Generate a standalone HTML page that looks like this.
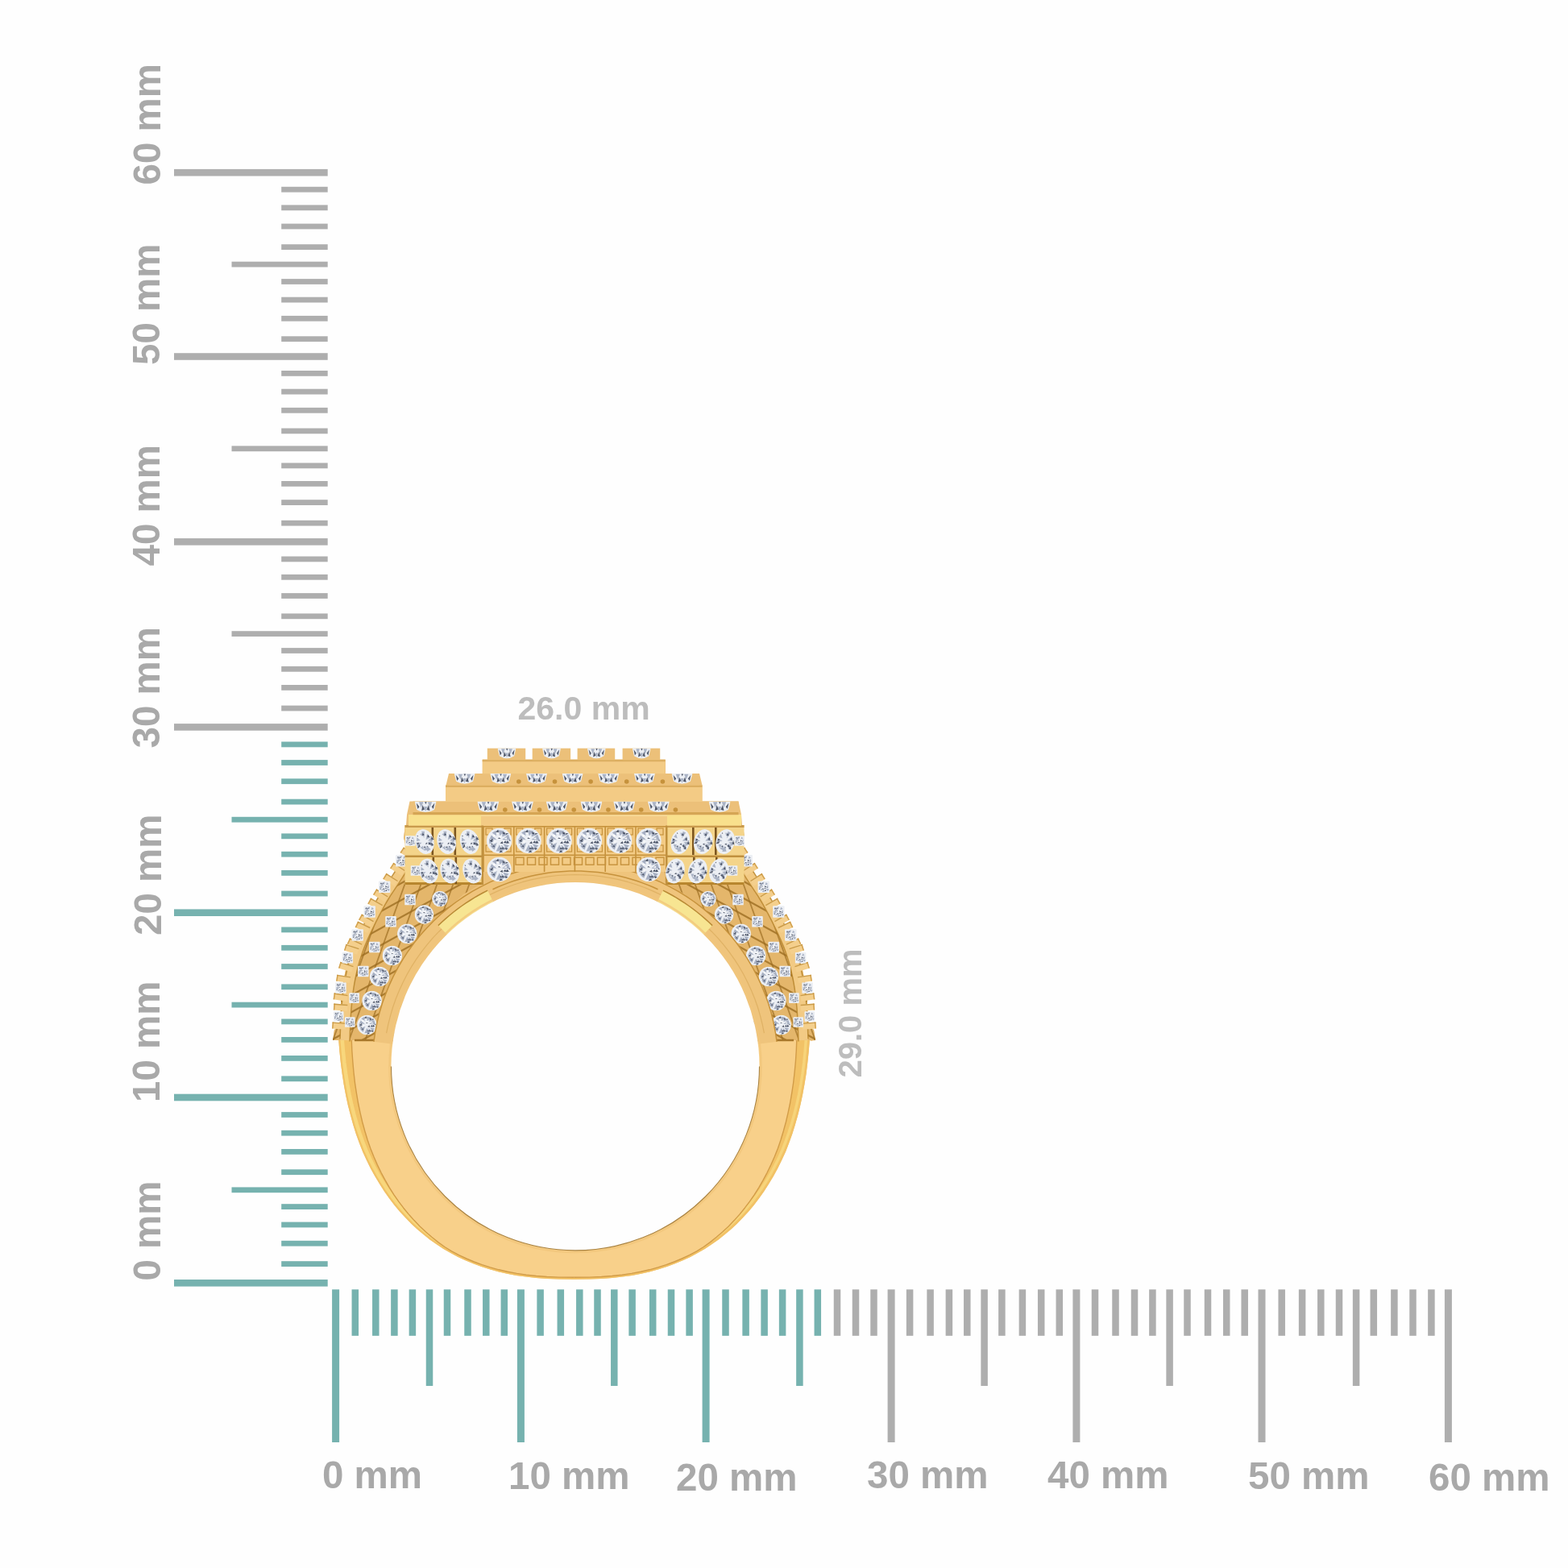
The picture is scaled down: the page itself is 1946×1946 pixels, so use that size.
<!DOCTYPE html>
<html><head><meta charset="utf-8"><title>Ring size</title>
<style>html,body{margin:0;padding:0;background:#fff;overflow:hidden}svg{display:block}</style>
</head><body>
<svg width="1946" height="1946" viewBox="0 0 1946 1946">
<defs>
<symbol id="d" viewBox="-50 -50 100 100">
<circle r="49" fill="#eceff4"/>
<g fill="#9fa9bd" opacity="0.9"><polygon points="21.0,3.9 34.7,-0.3 32.3,12.7"/><polygon points="14.9,11.5 38.1,17.7 26.8,32.4"/><polygon points="8.0,15.3 25.9,31.8 11.3,39.4"/><polygon points="0.4,14.7 14.5,40.1 -12.3,40.9"/><polygon points="-10.7,12.6 -18.4,34.8 -31.3,23.8"/><polygon points="-7.8,6.7 -23.5,31.8 -35.0,18.4"/><polygon points="-20.7,1.0 -38.4,12.2 -39.4,-8.4"/><polygon points="-9.4,-4.2 -37.0,-8.2 -30.9,-21.9"/><polygon points="-10.9,-19.1 -27.9,-31.5 -13.0,-40.0"/><polygon points="3.1,-19.3 -6.4,-42.3 19.2,-38.3"/><polygon points="11.5,-15.8 11.7,-36.4 31.0,-22.4"/><polygon points="11.3,-4.0 35.1,-25.0 43.0,-2.5"/></g>
<g fill="#3f475a" opacity="0.9"><polygon points="26.7,35.9 21.4,26.6 34.8,30.0"/><polygon points="-28.5,-4.0 -26.4,5.1 -37.6,0.1"/><polygon points="2.7,9.1 12.7,1.3 14.3,11.7"/><polygon points="-0.3,-14.3 6.0,-7.7 -5.2,-8.8"/><polygon points="14.0,43.6 -1.1,46.1 6.4,36.5"/><polygon points="26.2,9.4 32.5,-0.8 39.2,9.3"/><polygon points="6.9,31.8 2.6,27.4 10.1,28.1"/><polygon points="-28.8,15.7 -33.6,10.0 -24.3,11.3"/><polygon points="11.4,30.6 1.8,32.6 6.1,26.3"/><polygon points="20.3,-23.9 10.7,-30.2 23.8,-31.0"/><polygon points="38.6,0.9 39.5,-5.0 45.1,-0.6"/><polygon points="-14.4,-34.1 -4.6,-42.8 -1.8,-31.8"/><polygon points="12.9,-34.0 22.9,-33.0 15.2,-28.5"/><polygon points="24.6,-29.8 36.4,-28.6 27.2,-23.3"/><polygon points="15.9,7.8 24.3,-0.5 27.6,9.5"/><polygon points="12.1,24.7 22.7,30.8 9.2,32.3"/><polygon points="-20.0,16.8 -17.3,24.9 -27.7,20.9"/><polygon points="-22.1,-2.9 -33.5,-1.0 -27.9,-8.3"/></g>
<g fill="#ffffff" opacity="0.95"><polygon points="-13.2,-21.1 -22.6,-14.7 -23.1,-23.9"/><polygon points="-6.0,-30.1 0.1,-33.2 -0.7,-28.0"/><polygon points="30.2,-5.6 16.9,-8.4 28.8,-13.5"/><polygon points="-22.2,1.3 -11.0,1.7 -18.9,7.3"/><polygon points="20.6,-0.4 15.0,4.8 13.1,-1.6"/><polygon points="6.0,-10.4 -5.8,-14.5 6.4,-17.9"/><polygon points="-7.0,-10.9 -9.5,-6.1 -12.9,-10.6"/></g>
</symbol>
<symbol id="q" viewBox="-50 -50 100 100">
<rect x="-45" y="-45" width="90" height="90" rx="6" fill="#eceff4"/>
<g fill="#9fa9bd" opacity="0.85"><polygon points="21.4,-2.4 32.9,-13.4 35.0,6.0"/><polygon points="10.6,7.5 42.2,18.3 31.1,33.9"/><polygon points="-0.9,15.5 7.5,38.7 -11.9,37.6"/><polygon points="-12.3,15.7 -15.2,31.6 -26.9,22.5"/><polygon points="-13.0,2.5 -34.2,18.6 -38.6,-4.4"/><polygon points="-8.4,-7.6 -33.9,-15.1 -18.3,-32.3"/><polygon points="-3.0,-17.2 -16.7,-34.7 3.8,-38.3"/><polygon points="12.1,-13.7 17.4,-36.0 33.5,-21.9"/></g>
<g fill="#3f475a" opacity="0.9"><polygon points="1.0,18.8 -17.0,18.3 -4.5,9.2"/><polygon points="-30.9,-5.9 -20.1,-8.8 -24.2,-1.2"/><polygon points="31.8,8.8 20.2,7.5 29.3,2.3"/><polygon points="-31.4,21.4 -38.2,14.2 -26.0,15.4"/><polygon points="-34.7,-24.0 -26.3,-34.6 -20.7,-23.2"/><polygon points="9.3,5.7 6.0,-8.3 23.2,-0.7"/><polygon points="13.2,7.7 13.1,17.7 2.5,11.0"/><polygon points="6.2,33.1 12.4,21.3 20.8,32.4"/><polygon points="-10.9,0.4 -18.4,-5.9 -6.8,-5.6"/><polygon points="-18.2,-27.3 -3.9,-26.1 -14.8,-19.5"/></g>
</symbol>
<symbol id="m" viewBox="-50 -50 100 100">
<ellipse rx="36" ry="49" fill="#eceff4"/>
<g fill="#9fa9bd" opacity="0.85" transform="scale(0.75 1)"><polygon points="17.9,-0.2 41.1,-8.8 41.2,7.9"/><polygon points="13.2,6.1 36.9,5.2 27.9,24.8"/><polygon points="4.1,16.7 19.9,35.5 -1.4,40.7"/><polygon points="-2.6,15.1 4.8,35.6 -16.6,31.9"/><polygon points="-13.7,14.3 -16.4,30.8 -30.1,17.6"/><polygon points="-14.8,1.0 -42.8,10.8 -43.8,-5.2"/><polygon points="-18.9,-9.2 -38.8,-10.3 -32.0,-24.1"/><polygon points="-2.5,-21.2 -12.4,-33.1 4.2,-35.1"/><polygon points="2.3,-13.6 -1.4,-41.4 15.0,-38.6"/><polygon points="9.1,-5.5 24.0,-26.9 34.9,-9.1"/></g>
<g fill="#3f475a" opacity="0.9" transform="scale(0.75 1)"><polygon points="-40.5,11.1 -27.8,4.7 -29.4,15.6"/><polygon points="-39.2,-2.0 -30.7,-4.1 -34.1,1.8"/><polygon points="-28.5,-25.8 -29.2,-31.5 -22.7,-28.0"/><polygon points="40.7,22.8 27.3,24.3 34.7,16.3"/><polygon points="37.6,-8.2 50.2,-5.4 38.7,-0.7"/><polygon points="12.3,11.0 0.2,11.4 7.8,4.8"/><polygon points="4.5,22.3 10.6,19.1 9.9,24.4"/><polygon points="-41.9,11.2 -31.2,15.0 -42.4,18.1"/><polygon points="-37.4,4.4 -40.1,-3.4 -30.0,0.4"/><polygon points="41.9,-6.2 51.2,2.0 36.2,1.4"/><polygon points="-4.2,22.5 -14.1,22.4 -7.3,17.3"/><polygon points="-3.3,-25.0 3.1,-34.5 9.0,-24.8"/><polygon points="40.3,-7.9 35.7,-11.9 43.0,-11.6"/><polygon points="19.1,-12.9 27.0,-22.8 32.3,-12.0"/><polygon points="30.7,21.2 26.6,11.5 39.6,15.8"/><polygon points="23.3,7.7 28.9,18.3 13.9,14.2"/></g>
</symbol>
<symbol id="b" viewBox="-50 -50 100 100" preserveAspectRatio="none">
<path d="M-50,-50 L50,-50 L40,15 Q0,55 -40,15 Z" fill="#eceff4"/>
<g fill="#9fa9bd" opacity="0.85"><polygon points="-30,-45 -10,-45 -20,0"/><polygon points="30,-45 10,-45 20,0"/><polygon points="-8,-10 8,-10 0,30"/></g>
<g fill="#3f475a" opacity="0.9"><polygon points="-42,-38 -28,-8 -36,10"/><polygon points="42,-38 28,-8 36,10"/><polygon points="-14,-22 -4,12 -18,24"/><polygon points="14,-22 5,15 20,22"/><polygon points="-4,-46 6,-46 1,-28"/></g>
</symbol>
<clipPath id="sc0"><polygon points="503.0,1024.0 501.0,1040.0 506.5,1059.2 493.4,1079.4 485.3,1091.6 472.5,1111.9 466.3,1122.0 454.6,1142.9 450.7,1150.5 440.3,1172.2 436.9,1177.9 429.7,1200.7 426.7,1214.4 423.1,1238.2 423.1,1249.7 421.3,1273.6 415.0,1278.0 413.0,1291.0 413.0,1291.0 490.0,1291.0 492.0,1240.0 505.0,1200.0 525.0,1165.0 548.0,1135.0 575.0,1110.0 600.0,1095.0 598.0,1024.0"/></clipPath><clipPath id="sc1"><polygon points="922.0,1024.0 924.0,1040.0 918.5,1059.2 931.6,1079.4 939.7,1091.6 952.5,1111.9 958.7,1122.0 970.4,1142.9 974.3,1150.5 984.7,1172.2 988.1,1177.9 995.3,1200.7 998.3,1214.4 1001.9,1238.2 1001.9,1249.7 1003.7,1273.6 1010.0,1278.0 1012.0,1291.0 1012.0,1291.0 935.0,1291.0 933.0,1240.0 920.0,1200.0 900.0,1165.0 877.0,1135.0 850.0,1110.0 825.0,1095.0 827.0,1024.0"/></clipPath></defs>
<style>
.lb{font-family:"Liberation Sans",Arial,sans-serif;font-weight:bold;font-size:47.5px;fill:#a9a9a9}
.lb2{font-family:"Liberation Sans",Arial,sans-serif;font-weight:bold;font-size:41px;fill:#bdbdbd}
.lb3{font-family:"Liberation Sans",Arial,sans-serif;font-weight:bold;font-size:40px;fill:#bdbdbd}
</style>
<rect width="1946" height="1946" fill="#fefefe"/>
<rect x="216" y="1588.00" width="190.70" height="8.6" fill="#76b2af"/><rect x="349.2" y="1565.20" width="57.50" height="6.8" fill="#76b2af"/><rect x="349.2" y="1539.80" width="57.50" height="6.8" fill="#76b2af"/><rect x="349.2" y="1516.60" width="57.50" height="6.8" fill="#76b2af"/><rect x="349.2" y="1494.20" width="57.50" height="6.8" fill="#76b2af"/><rect x="287.5" y="1473.40" width="119.20" height="6.8" fill="#76b2af"/><rect x="349.2" y="1451.30" width="57.50" height="6.8" fill="#76b2af"/><rect x="349.2" y="1426.00" width="57.50" height="6.8" fill="#76b2af"/><rect x="349.2" y="1402.80" width="57.50" height="6.8" fill="#76b2af"/><rect x="349.2" y="1380.10" width="57.50" height="6.8" fill="#76b2af"/><rect x="216" y="1357.70" width="190.70" height="8.6" fill="#76b2af"/><rect x="349.2" y="1335.40" width="57.50" height="6.8" fill="#76b2af"/><rect x="349.2" y="1310.00" width="57.50" height="6.8" fill="#76b2af"/><rect x="349.2" y="1287.00" width="57.50" height="6.8" fill="#76b2af"/><rect x="349.2" y="1264.50" width="57.50" height="6.8" fill="#76b2af"/><rect x="287.5" y="1243.70" width="119.20" height="6.8" fill="#76b2af"/><rect x="349.2" y="1221.40" width="57.50" height="6.8" fill="#76b2af"/><rect x="349.2" y="1196.10" width="57.50" height="6.8" fill="#76b2af"/><rect x="349.2" y="1172.90" width="57.50" height="6.8" fill="#76b2af"/><rect x="349.2" y="1150.50" width="57.50" height="6.8" fill="#76b2af"/><rect x="216" y="1128.40" width="190.70" height="8.6" fill="#76b2af"/><rect x="349.2" y="1105.60" width="57.50" height="6.8" fill="#76b2af"/><rect x="349.2" y="1080.00" width="57.50" height="6.8" fill="#76b2af"/><rect x="349.2" y="1056.80" width="57.50" height="6.8" fill="#76b2af"/><rect x="349.2" y="1034.40" width="57.50" height="6.8" fill="#76b2af"/><rect x="287.5" y="1013.80" width="119.20" height="6.8" fill="#76b2af"/><rect x="349.2" y="991.70" width="57.50" height="6.8" fill="#76b2af"/><rect x="349.2" y="966.30" width="57.50" height="6.8" fill="#76b2af"/><rect x="349.2" y="943.10" width="57.50" height="6.8" fill="#76b2af"/><rect x="349.2" y="920.50" width="57.50" height="6.8" fill="#76b2af"/><rect x="216" y="898.10" width="190.70" height="8.6" fill="#aeaeae"/><rect x="349.2" y="875.60" width="57.50" height="6.8" fill="#aeaeae"/><rect x="349.2" y="850.00" width="57.50" height="6.8" fill="#aeaeae"/><rect x="349.2" y="826.90" width="57.50" height="6.8" fill="#aeaeae"/><rect x="349.2" y="804.10" width="57.50" height="6.8" fill="#aeaeae"/><rect x="287.5" y="783.20" width="119.20" height="6.8" fill="#aeaeae"/><rect x="349.2" y="761.40" width="57.50" height="6.8" fill="#aeaeae"/><rect x="349.2" y="736.10" width="57.50" height="6.8" fill="#aeaeae"/><rect x="349.2" y="712.90" width="57.50" height="6.8" fill="#aeaeae"/><rect x="349.2" y="690.50" width="57.50" height="6.8" fill="#aeaeae"/><rect x="216" y="668.10" width="190.70" height="8.6" fill="#aeaeae"/><rect x="349.2" y="645.80" width="57.50" height="6.8" fill="#aeaeae"/><rect x="349.2" y="620.20" width="57.50" height="6.8" fill="#aeaeae"/><rect x="349.2" y="597.00" width="57.50" height="6.8" fill="#aeaeae"/><rect x="349.2" y="574.50" width="57.50" height="6.8" fill="#aeaeae"/><rect x="287.5" y="553.40" width="119.20" height="6.8" fill="#aeaeae"/><rect x="349.2" y="531.50" width="57.50" height="6.8" fill="#aeaeae"/><rect x="349.2" y="505.90" width="57.50" height="6.8" fill="#aeaeae"/><rect x="349.2" y="482.70" width="57.50" height="6.8" fill="#aeaeae"/><rect x="349.2" y="460.00" width="57.50" height="6.8" fill="#aeaeae"/><rect x="216" y="438.20" width="190.70" height="8.6" fill="#aeaeae"/><rect x="349.2" y="417.30" width="57.50" height="6.8" fill="#aeaeae"/><rect x="349.2" y="391.90" width="57.50" height="6.8" fill="#aeaeae"/><rect x="349.2" y="368.70" width="57.50" height="6.8" fill="#aeaeae"/><rect x="349.2" y="346.10" width="57.50" height="6.8" fill="#aeaeae"/><rect x="287.5" y="324.70" width="119.20" height="6.8" fill="#aeaeae"/><rect x="349.2" y="303.20" width="57.50" height="6.8" fill="#aeaeae"/><rect x="349.2" y="277.60" width="57.50" height="6.8" fill="#aeaeae"/><rect x="349.2" y="254.40" width="57.50" height="6.8" fill="#aeaeae"/><rect x="349.2" y="231.80" width="57.50" height="6.8" fill="#aeaeae"/><rect x="216" y="209.90" width="190.70" height="8.6" fill="#aeaeae"/><rect x="412.10" y="1600.3" width="9" height="189.70" fill="#76b2af"/><rect x="436.55" y="1600.3" width="8.5" height="57.50" fill="#76b2af"/><rect x="462.05" y="1600.3" width="8.5" height="57.50" fill="#76b2af"/><rect x="485.15" y="1600.3" width="8.5" height="57.50" fill="#76b2af"/><rect x="507.65" y="1600.3" width="8.5" height="57.50" fill="#76b2af"/><rect x="528.75" y="1600.3" width="8.5" height="119.70" fill="#76b2af"/><rect x="550.75" y="1600.3" width="8.5" height="57.50" fill="#76b2af"/><rect x="576.25" y="1600.3" width="8.5" height="57.50" fill="#76b2af"/><rect x="599.05" y="1600.3" width="8.5" height="57.50" fill="#76b2af"/><rect x="621.55" y="1600.3" width="8.5" height="57.50" fill="#76b2af"/><rect x="641.90" y="1600.3" width="9" height="189.70" fill="#76b2af"/><rect x="666.35" y="1600.3" width="8.5" height="57.50" fill="#76b2af"/><rect x="691.55" y="1600.3" width="8.5" height="57.50" fill="#76b2af"/><rect x="715.05" y="1600.3" width="8.5" height="57.50" fill="#76b2af"/><rect x="737.25" y="1600.3" width="8.5" height="57.50" fill="#76b2af"/><rect x="758.05" y="1600.3" width="8.5" height="119.70" fill="#76b2af"/><rect x="780.35" y="1600.3" width="8.5" height="57.50" fill="#76b2af"/><rect x="805.95" y="1600.3" width="8.5" height="57.50" fill="#76b2af"/><rect x="828.75" y="1600.3" width="8.5" height="57.50" fill="#76b2af"/><rect x="851.35" y="1600.3" width="8.5" height="57.50" fill="#76b2af"/><rect x="871.60" y="1600.3" width="9" height="189.70" fill="#76b2af"/><rect x="896.25" y="1600.3" width="8.5" height="57.50" fill="#76b2af"/><rect x="921.35" y="1600.3" width="8.5" height="57.50" fill="#76b2af"/><rect x="944.35" y="1600.3" width="8.5" height="57.50" fill="#76b2af"/><rect x="966.85" y="1600.3" width="8.5" height="57.50" fill="#76b2af"/><rect x="988.15" y="1600.3" width="8.5" height="119.70" fill="#76b2af"/><rect x="1010.55" y="1600.3" width="8.5" height="57.50" fill="#76b2af"/><rect x="1034.75" y="1600.3" width="8.5" height="57.50" fill="#aeaeae"/><rect x="1057.75" y="1600.3" width="8.5" height="57.50" fill="#aeaeae"/><rect x="1080.25" y="1600.3" width="8.5" height="57.50" fill="#aeaeae"/><rect x="1101.60" y="1600.3" width="9" height="189.70" fill="#aeaeae"/><rect x="1124.85" y="1600.3" width="8.5" height="57.50" fill="#aeaeae"/><rect x="1150.35" y="1600.3" width="8.5" height="57.50" fill="#aeaeae"/><rect x="1173.65" y="1600.3" width="8.5" height="57.50" fill="#aeaeae"/><rect x="1196.05" y="1600.3" width="8.5" height="57.50" fill="#aeaeae"/><rect x="1217.35" y="1600.3" width="8.5" height="119.70" fill="#aeaeae"/><rect x="1239.15" y="1600.3" width="8.5" height="57.50" fill="#aeaeae"/><rect x="1264.65" y="1600.3" width="8.5" height="57.50" fill="#aeaeae"/><rect x="1287.95" y="1600.3" width="8.5" height="57.50" fill="#aeaeae"/><rect x="1310.55" y="1600.3" width="8.5" height="57.50" fill="#aeaeae"/><rect x="1331.40" y="1600.3" width="9" height="189.70" fill="#aeaeae"/><rect x="1354.75" y="1600.3" width="8.5" height="57.50" fill="#aeaeae"/><rect x="1380.25" y="1600.3" width="8.5" height="57.50" fill="#aeaeae"/><rect x="1403.75" y="1600.3" width="8.5" height="57.50" fill="#aeaeae"/><rect x="1426.15" y="1600.3" width="8.5" height="57.50" fill="#aeaeae"/><rect x="1447.35" y="1600.3" width="8.5" height="119.70" fill="#aeaeae"/><rect x="1469.25" y="1600.3" width="8.5" height="57.50" fill="#aeaeae"/><rect x="1494.75" y="1600.3" width="8.5" height="57.50" fill="#aeaeae"/><rect x="1517.95" y="1600.3" width="8.5" height="57.50" fill="#aeaeae"/><rect x="1540.45" y="1600.3" width="8.5" height="57.50" fill="#aeaeae"/><rect x="1561.50" y="1600.3" width="9" height="189.70" fill="#aeaeae"/><rect x="1586.45" y="1600.3" width="8.5" height="57.50" fill="#aeaeae"/><rect x="1611.85" y="1600.3" width="8.5" height="57.50" fill="#aeaeae"/><rect x="1635.05" y="1600.3" width="8.5" height="57.50" fill="#aeaeae"/><rect x="1657.75" y="1600.3" width="8.5" height="57.50" fill="#aeaeae"/><rect x="1678.85" y="1600.3" width="8.5" height="119.70" fill="#aeaeae"/><rect x="1700.55" y="1600.3" width="8.5" height="57.50" fill="#aeaeae"/><rect x="1726.15" y="1600.3" width="8.5" height="57.50" fill="#aeaeae"/><rect x="1749.25" y="1600.3" width="8.5" height="57.50" fill="#aeaeae"/><rect x="1772.15" y="1600.3" width="8.5" height="57.50" fill="#aeaeae"/><rect x="1792.90" y="1600.3" width="9" height="189.70" fill="#aeaeae"/><text x="400" y="1846.5" class="lb">0 mm</text><text x="631" y="1848" class="lb">10 mm</text><text x="839" y="1850" class="lb">20 mm</text><text x="1076" y="1846.5" class="lb">30 mm</text><text x="1300" y="1847" class="lb">40 mm</text><text x="1549" y="1848" class="lb">50 mm</text><text x="1773" y="1850.3" class="lb">60 mm</text><text x="199" y="229.5" class="lb" transform="rotate(-90 199 229.5)">60 mm</text><text x="198" y="453" class="lb" transform="rotate(-90 198 453)">50 mm</text><text x="197.5" y="702.5" class="lb" transform="rotate(-90 197.5 702.5)">40 mm</text><text x="198" y="928.5" class="lb" transform="rotate(-90 198 928.5)">30 mm</text><text x="200" y="1161" class="lb" transform="rotate(-90 200 1161)">20 mm</text><text x="198" y="1368" class="lb" transform="rotate(-90 198 1368)">10 mm</text><text x="199" y="1589.5" class="lb" transform="rotate(-90 199 1589.5)">0 mm</text><text x="642.5" y="892.9" class="lb2">26.0 mm</text><text x="1069" y="1337.5" class="lb3" transform="rotate(-90 1069 1337.5)">29.0 mm</text>
<polygon points="598.6,942.7 826.0,942.7 826.0,960.0 868.0,960.0 871.5,974.5 871.5,994.5 916.5,994.5 920.0,1011.0 921.0,1024.0 922.0,1024.0 924.0,1040.0 918.5,1059.2 931.6,1079.4 939.7,1091.6 952.5,1111.9 958.7,1122.0 970.4,1142.9 974.3,1150.5 984.7,1172.2 988.1,1177.9 995.3,1200.7 998.3,1214.4 1001.9,1238.2 1001.9,1249.7 1003.7,1273.6 1010.0,1278.0 1012.0,1291.0 1006.0,1292.0 1004.9,1290.0 1003.7,1304.9 1002.2,1319.2 1000.5,1333.1 998.3,1346.4 995.9,1359.4 993.2,1371.9 990.2,1384.1 986.8,1396.0 983.2,1407.4 979.2,1418.6 975.0,1429.4 970.2,1439.8 965.2,1449.9 959.9,1459.7 954.3,1469.1 948.4,1478.2 942.2,1487.0 935.8,1495.4 929.1,1503.4 922.1,1511.1 914.9,1518.5 907.4,1525.5 899.6,1532.1 891.6,1538.4 883.3,1544.3 874.7,1549.9 865.9,1555.1 856.8,1559.9 847.4,1564.3 837.7,1568.3 827.7,1572.0 817.4,1575.3 806.8,1578.2 795.8,1580.7 784.4,1582.9 772.5,1584.6 759.9,1586.0 746.6,1587.0 731.8,1587.6 712.6,1587.8 712.6,1587.8 693.3,1587.6 678.5,1587.0 665.2,1586.0 652.7,1584.6 640.7,1582.9 629.3,1580.7 618.3,1578.2 607.7,1575.3 597.4,1572.0 587.4,1568.3 577.7,1564.3 568.4,1559.9 559.2,1555.1 550.4,1549.9 541.8,1544.3 533.5,1538.4 525.5,1532.1 517.7,1525.5 510.2,1518.5 503.0,1511.1 496.0,1503.4 489.3,1495.4 482.9,1487.0 476.7,1478.2 470.9,1469.1 465.3,1459.7 459.9,1449.9 454.9,1439.8 450.2,1429.4 445.9,1418.6 441.9,1407.4 438.3,1396.0 435.0,1384.1 431.9,1371.9 429.2,1359.4 426.8,1346.4 424.7,1333.1 422.9,1319.2 421.4,1304.9 420.2,1290.0 419.0,1291.0 413.0,1291.0 415.0,1278.0 421.3,1273.6 423.1,1249.7 423.1,1238.2 426.7,1214.4 429.7,1200.7 436.9,1177.9 440.3,1172.2 450.7,1150.5 454.6,1142.9 466.3,1122.0 472.5,1111.9 485.3,1091.6 493.4,1079.4 506.5,1059.2 501.0,1040.0 503.0,1024.0 504.0,1024.0 505.0,1011.0 508.5,994.5 553.5,994.5 553.5,974.5 557.0,960.0 599.0,960.0 599.0,942.7 826.4,942.7" fill="#ecc079"/><polygon points="420.2,1290.0 421.4,1304.9 422.9,1319.2 424.7,1333.1 426.8,1346.4 429.2,1359.4 431.9,1371.9 435.0,1384.1 438.3,1396.0 441.9,1407.4 445.9,1418.6 450.2,1429.4 454.9,1439.8 459.9,1449.9 465.3,1459.7 470.9,1469.1 476.7,1478.2 482.9,1487.0 489.3,1495.4 496.0,1503.4 503.0,1511.1 510.2,1518.5 517.7,1525.5 525.5,1532.1 533.5,1538.4 541.8,1544.3 550.4,1549.9 559.2,1555.1 568.4,1559.9 577.7,1564.3 587.4,1568.3 597.4,1572.0 607.7,1575.3 618.3,1578.2 629.3,1580.7 640.7,1582.9 652.7,1584.6 665.2,1586.0 678.5,1587.0 693.3,1587.6 712.6,1587.8 712.6,1587.8 731.8,1587.6 746.6,1587.0 759.9,1586.0 772.5,1584.6 784.4,1582.9 795.8,1580.7 806.8,1578.2 817.4,1575.3 827.7,1572.0 837.7,1568.3 847.4,1564.3 856.8,1559.9 865.9,1555.1 874.7,1549.9 883.3,1544.3 891.6,1538.4 899.6,1532.1 907.4,1525.5 914.9,1518.5 922.1,1511.1 929.1,1503.4 935.8,1495.4 942.2,1487.0 948.4,1478.2 954.3,1469.1 959.9,1459.7 965.2,1449.9 970.2,1439.8 975.0,1429.4 979.2,1418.6 983.2,1407.4 986.8,1396.0 990.2,1384.1 993.2,1371.9 995.9,1359.4 998.3,1346.4 1000.5,1333.1 1002.2,1319.2 1003.7,1304.9 1004.9,1290.0" fill="#f2c266" /><polyline points="424.7,1289.6 425.9,1304.5 427.3,1318.7 429.1,1332.4 431.2,1345.7 433.6,1358.5 436.3,1370.9 439.3,1383.0 442.6,1394.7 446.2,1406.0 450.1,1417.0 454.3,1427.6 459.0,1437.9 463.9,1447.8 469.2,1457.5 474.7,1466.8 480.5,1475.7 486.5,1484.3 492.8,1492.6 499.4,1500.5 506.3,1508.0 513.4,1515.3 520.7,1522.1 528.3,1528.6 536.2,1534.8 544.4,1540.6 552.8,1546.0 561.4,1551.1 570.4,1555.8 579.6,1560.2 589.1,1564.2 598.9,1567.8 609.0,1571.0 619.5,1573.9" fill="none" stroke="#f8d77c" stroke-width="4.5" stroke-linejoin="round" /><polyline points="1000.4,1289.6 999.2,1304.5 997.8,1318.7 996.0,1332.4 993.9,1345.7 991.5,1358.5 988.8,1370.9 985.8,1383.0 982.5,1394.7 978.9,1406.0 975.0,1417.0 970.8,1427.6 966.2,1437.9 961.2,1447.8 956.0,1457.5 950.4,1466.8 944.7,1475.7 938.6,1484.3 932.3,1492.6 925.7,1500.5 918.9,1508.0 911.8,1515.3 904.4,1522.1 896.8,1528.6 888.9,1534.8 880.8,1540.6 872.4,1546.0 863.7,1551.1 854.8,1555.8 845.5,1560.2 836.1,1564.2 826.3,1567.8 816.2,1571.0 805.6,1573.9" fill="none" stroke="#f7d47a" stroke-width="3.5" stroke-linejoin="round" /><polygon points="436.2,1288.7 436.8,1303.5 437.8,1317.5 439.0,1331.0 440.5,1344.1 442.4,1356.7 444.5,1369.0 447.0,1380.9 449.7,1392.5 452.8,1403.8 456.1,1414.7 459.8,1425.3 463.9,1435.5 468.3,1445.6 473.0,1455.3 478.0,1464.7 483.3,1473.8 488.8,1482.6 494.7,1491.1 500.8,1499.2 507.3,1507.1 514.0,1514.6 521.0,1521.9 528.3,1528.8 535.8,1535.3 543.7,1541.6 551.9,1547.5 560.5,1552.9 569.5,1557.6 578.8,1562.0 588.3,1566.0 598.2,1569.7 608.4,1572.9 618.9,1575.8 629.8,1578.3 641.2,1580.4 653.0,1582.2 665.4,1583.5 678.7,1584.5 693.3,1585.1 712.6,1585.3 712.5,1585.3 731.8,1585.1 746.4,1584.5 759.7,1583.5 772.2,1582.2 784.0,1580.4 795.3,1578.3 806.2,1575.8 816.7,1572.9 826.9,1569.7 836.8,1566.0 846.4,1562.0 855.7,1557.6 864.7,1552.9 873.2,1547.5 881.4,1541.6 889.3,1535.3 896.9,1528.8 904.2,1521.9 911.2,1514.6 917.9,1507.1 924.3,1499.2 930.4,1491.1 936.3,1482.6 941.8,1473.8 947.1,1464.7 952.1,1455.3 956.8,1445.6 961.3,1435.5 965.4,1425.3 969.0,1414.7 972.3,1403.8 975.4,1392.5 978.1,1380.9 980.6,1369.0 982.7,1356.7 984.6,1344.1 986.1,1331.0 987.4,1317.5 988.3,1303.5 988.9,1288.7" fill="#f8d08a" /><polyline points="436.2,1288.7 436.8,1303.5 437.8,1317.5 439.0,1331.0 440.5,1344.1 442.4,1356.7 444.5,1369.0 447.0,1380.9 449.7,1392.5 452.8,1403.8 456.1,1414.7 459.8,1425.3 463.9,1435.5 468.3,1445.6 473.0,1455.3 478.0,1464.7 483.3,1473.8 488.8,1482.6 494.7,1491.1 500.8,1499.2 507.3,1507.1 514.0,1514.6 521.0,1521.9 528.3,1528.8 535.8,1535.3 543.7,1541.6 551.9,1547.5 560.5,1552.9 569.5,1557.6 578.8,1562.0 588.3,1566.0 598.2,1569.7 608.4,1572.9 618.9,1575.8 629.8,1578.3 641.2,1580.4 653.0,1582.2 665.4,1583.5 678.7,1584.5 693.3,1585.1 712.6,1585.3" fill="none" stroke="#d29c48" stroke-width="1.4" stroke-linejoin="round" /><polyline points="988.9,1288.7 988.3,1303.5 987.4,1317.5 986.1,1331.0 984.6,1344.1 982.7,1356.7 980.6,1369.0 978.1,1380.9 975.4,1392.5 972.3,1403.8 969.0,1414.7 965.4,1425.3 961.3,1435.5 956.8,1445.6 952.1,1455.3 947.1,1464.7 941.8,1473.8 936.3,1482.6 930.4,1491.1 924.3,1499.2 917.9,1507.1 911.2,1514.6 904.2,1521.9 896.9,1528.8 889.3,1535.3 881.4,1541.6 873.2,1547.5 864.7,1552.9 855.7,1557.6 846.4,1562.0 836.8,1566.0 826.9,1569.7 816.7,1572.9 806.2,1575.8 795.3,1578.3 784.0,1580.4 772.2,1582.2 759.7,1583.5 746.4,1584.5 731.8,1585.1 712.5,1585.3" fill="none" stroke="#d29c48" stroke-width="1.4" stroke-linejoin="round" /><polygon points="503.0,1024.0 501.0,1040.0 506.5,1059.2 493.4,1079.4 485.3,1091.6 472.5,1111.9 466.3,1122.0 454.6,1142.9 450.7,1150.5 440.3,1172.2 436.9,1177.9 429.7,1200.7 426.7,1214.4 423.1,1238.2 423.1,1249.7 421.3,1273.6 415.0,1278.0 413.0,1291.0 413.0,1291.0 490.0,1291.0 492.0,1240.0 505.0,1200.0 525.0,1165.0 548.0,1135.0 575.0,1110.0 600.0,1095.0 598.0,1024.0" fill="#e4b66b" /><g clip-path="url(#sc0)"><polyline points="400.0,1108.0 600.0,998.0" fill="none" stroke="#9c6e22" stroke-width="2.2" opacity="0.8"/><polyline points="400.0,1129.0 600.0,1019.0" fill="none" stroke="#9c6e22" stroke-width="2.2" opacity="0.8"/><polyline points="400.0,1150.0 600.0,1040.0" fill="none" stroke="#9c6e22" stroke-width="2.2" opacity="0.8"/><polyline points="400.0,1171.0 600.0,1061.0" fill="none" stroke="#9c6e22" stroke-width="2.2" opacity="0.8"/><polyline points="400.0,1192.0 600.0,1082.0" fill="none" stroke="#9c6e22" stroke-width="2.2" opacity="0.8"/><polyline points="400.0,1213.0 600.0,1103.0" fill="none" stroke="#9c6e22" stroke-width="2.2" opacity="0.8"/><polyline points="400.0,1234.0 600.0,1124.0" fill="none" stroke="#9c6e22" stroke-width="2.2" opacity="0.8"/><polyline points="400.0,1255.0 600.0,1145.0" fill="none" stroke="#9c6e22" stroke-width="2.2" opacity="0.8"/><polyline points="400.0,1276.0 600.0,1166.0" fill="none" stroke="#9c6e22" stroke-width="2.2" opacity="0.8"/><polyline points="400.0,1297.0 600.0,1187.0" fill="none" stroke="#9c6e22" stroke-width="2.2" opacity="0.8"/><polyline points="400.0,1318.0 600.0,1208.0" fill="none" stroke="#9c6e22" stroke-width="2.2" opacity="0.8"/><polyline points="400.0,1339.0 600.0,1229.0" fill="none" stroke="#9c6e22" stroke-width="2.2" opacity="0.8"/><polyline points="400.0,1360.0 600.0,1250.0" fill="none" stroke="#9c6e22" stroke-width="2.2" opacity="0.8"/><polyline points="400.0,1381.0 600.0,1271.0" fill="none" stroke="#9c6e22" stroke-width="2.2" opacity="0.8"/><polyline points="370.0,1300.0 445.0,1090.0" fill="none" stroke="#9c6e22" stroke-width="1.8" opacity="0.7"/><polyline points="390.0,1300.0 465.0,1090.0" fill="none" stroke="#9c6e22" stroke-width="1.8" opacity="0.7"/><polyline points="410.0,1300.0 485.0,1090.0" fill="none" stroke="#9c6e22" stroke-width="1.8" opacity="0.7"/><polyline points="430.0,1300.0 505.0,1090.0" fill="none" stroke="#9c6e22" stroke-width="1.8" opacity="0.7"/><polyline points="450.0,1300.0 525.0,1090.0" fill="none" stroke="#9c6e22" stroke-width="1.8" opacity="0.7"/><polyline points="470.0,1300.0 545.0,1090.0" fill="none" stroke="#9c6e22" stroke-width="1.8" opacity="0.7"/><polyline points="490.0,1300.0 565.0,1090.0" fill="none" stroke="#9c6e22" stroke-width="1.8" opacity="0.7"/><polyline points="510.0,1300.0 585.0,1090.0" fill="none" stroke="#9c6e22" stroke-width="1.8" opacity="0.7"/><polyline points="530.0,1300.0 605.0,1090.0" fill="none" stroke="#9c6e22" stroke-width="1.8" opacity="0.7"/><polyline points="550.0,1300.0 625.0,1090.0" fill="none" stroke="#9c6e22" stroke-width="1.8" opacity="0.7"/><polyline points="570.0,1300.0 645.0,1090.0" fill="none" stroke="#9c6e22" stroke-width="1.8" opacity="0.7"/><polyline points="590.0,1300.0 665.0,1090.0" fill="none" stroke="#9c6e22" stroke-width="1.8" opacity="0.7"/></g><polyline points="516.0,1048.0 514.0,1051.7 511.2,1056.8 507.9,1062.9 504.3,1069.4 500.6,1075.9 497.0,1082.0 493.4,1087.7 489.7,1093.4 485.9,1099.1 482.1,1104.8 478.4,1110.4 475.0,1116.0 471.8,1121.4 468.9,1126.8 466.0,1132.1 463.3,1137.4 460.6,1142.7 458.0,1148.0 455.4,1153.3 452.9,1158.6 450.5,1163.9 448.2,1169.3 446.0,1174.6 444.0,1180.0 442.2,1185.4 440.5,1190.8 438.9,1196.2 437.5,1201.7 436.2,1207.3 435.0,1213.0 433.9,1218.9 432.9,1224.9 432.1,1231.0 431.3,1237.2 430.6,1243.6 430.0,1250.0 429.5,1257.1 429.0,1264.9 428.7,1272.8 428.4,1280.2 428.2,1286.5 428.0,1291.0" fill="none" stroke="#f2ca84" stroke-width="12" stroke-linejoin="round" /><polyline points="510.0,1046.5 508.0,1050.2 505.2,1055.3 501.9,1061.4 498.3,1067.9 494.6,1074.4 491.0,1080.5 487.4,1086.2 483.7,1091.9 479.9,1097.6 476.1,1103.3 472.4,1108.9 469.0,1114.5 465.8,1119.9 462.9,1125.3 460.0,1130.6 457.3,1135.9 454.6,1141.2 452.0,1146.5 449.4,1151.8 446.9,1157.1 444.5,1162.4 442.2,1167.8 440.0,1173.1 438.0,1178.5 436.2,1183.9 434.5,1189.3 432.9,1194.7 431.5,1200.2 430.2,1205.8 429.0,1211.5 427.9,1217.4 426.9,1223.4 426.1,1229.5 425.3,1235.7 424.6,1242.1 424.0,1248.5 423.5,1255.6 423.0,1263.4 422.7,1271.3 422.4,1278.7 422.2,1285.0 422.0,1289.5" fill="none" stroke="#b8862e" stroke-width="1.5" stroke-linejoin="round" opacity="0.85"/><polyline points="522.0,1049.5 520.0,1053.2 517.2,1058.3 513.9,1064.4 510.3,1070.9 506.6,1077.4 503.0,1083.5 499.4,1089.2 495.7,1094.9 491.9,1100.6 488.1,1106.3 484.4,1111.9 481.0,1117.5 477.8,1122.9 474.9,1128.3 472.0,1133.6 469.3,1138.9 466.6,1144.2 464.0,1149.5 461.4,1154.8 458.9,1160.1 456.5,1165.4 454.2,1170.8 452.0,1176.1 450.0,1181.5 448.2,1186.9 446.5,1192.3 444.9,1197.7 443.5,1203.2 442.2,1208.8 441.0,1214.5 439.9,1220.4 438.9,1226.4 438.1,1232.5 437.3,1238.7 436.6,1245.1 436.0,1251.5 435.5,1258.6 435.0,1266.4 434.7,1274.3 434.4,1281.7 434.2,1288.0 434.0,1292.5" fill="none" stroke="#b8862e" stroke-width="1.5" stroke-linejoin="round" opacity="0.85"/><g transform="translate(505.4,1059.1) rotate(-147.0)"><rect x="-9" y="-4" width="17" height="8" fill="#f4cf8c"/><rect x="-9" y="2.6" width="17" height="1.4" fill="#b8862e" opacity="0.7"/><rect x="6.5" y="-4" width="1.5" height="8" fill="#c99640" opacity="0.8"/></g><g transform="translate(492.9,1078.4) rotate(-147.0)"><rect x="-9" y="-4" width="17" height="8" fill="#f4cf8c"/><rect x="-9" y="2.6" width="17" height="1.4" fill="#b8862e" opacity="0.7"/><rect x="6.5" y="-4" width="1.5" height="8" fill="#c99640" opacity="0.8"/></g><g transform="translate(484.1,1091.5) rotate(-148.0)"><rect x="-9" y="-4" width="17" height="8" fill="#f4cf8c"/><rect x="-9" y="2.6" width="17" height="1.4" fill="#b8862e" opacity="0.7"/><rect x="6.5" y="-4" width="1.5" height="8" fill="#c99640" opacity="0.8"/></g><g transform="translate(471.9,1111.0) rotate(-148.0)"><rect x="-9" y="-4" width="17" height="8" fill="#f4cf8c"/><rect x="-9" y="2.6" width="17" height="1.4" fill="#b8862e" opacity="0.7"/><rect x="6.5" y="-4" width="1.5" height="8" fill="#c99640" opacity="0.8"/></g><g transform="translate(465.2,1122.0) rotate(-150.7)"><rect x="-9" y="-4" width="17" height="8" fill="#f4cf8c"/><rect x="-9" y="2.6" width="17" height="1.4" fill="#b8862e" opacity="0.7"/><rect x="6.5" y="-4" width="1.5" height="8" fill="#c99640" opacity="0.8"/></g><g transform="translate(454.0,1142.0) rotate(-150.7)"><rect x="-9" y="-4" width="17" height="8" fill="#f4cf8c"/><rect x="-9" y="2.6" width="17" height="1.4" fill="#b8862e" opacity="0.7"/><rect x="6.5" y="-4" width="1.5" height="8" fill="#c99640" opacity="0.8"/></g><g transform="translate(449.6,1150.6) rotate(-154.5)"><rect x="-9" y="-4" width="17" height="8" fill="#f4cf8c"/><rect x="-9" y="2.6" width="17" height="1.4" fill="#b8862e" opacity="0.7"/><rect x="6.5" y="-4" width="1.5" height="8" fill="#c99640" opacity="0.8"/></g><g transform="translate(439.6,1171.3) rotate(-154.5)"><rect x="-9" y="-4" width="17" height="8" fill="#f4cf8c"/><rect x="-9" y="2.6" width="17" height="1.4" fill="#b8862e" opacity="0.7"/><rect x="6.5" y="-4" width="1.5" height="8" fill="#c99640" opacity="0.8"/></g><g transform="translate(435.8,1178.0) rotate(-162.4)"><rect x="-9" y="-4" width="17" height="8" fill="#f4cf8c"/><rect x="-9" y="2.6" width="17" height="1.4" fill="#b8862e" opacity="0.7"/><rect x="6.5" y="-4" width="1.5" height="8" fill="#c99640" opacity="0.8"/></g><g transform="translate(428.9,1200.0) rotate(-162.4)"><rect x="-9" y="-4" width="17" height="8" fill="#f4cf8c"/><rect x="-9" y="2.6" width="17" height="1.4" fill="#b8862e" opacity="0.7"/><rect x="6.5" y="-4" width="1.5" height="8" fill="#c99640" opacity="0.8"/></g><g transform="translate(425.6,1214.8) rotate(-171.3)"><rect x="-9" y="-4" width="17" height="8" fill="#f4cf8c"/><rect x="-9" y="2.6" width="17" height="1.4" fill="#b8862e" opacity="0.7"/><rect x="6.5" y="-4" width="1.5" height="8" fill="#c99640" opacity="0.8"/></g><g transform="translate(422.1,1237.5) rotate(-171.3)"><rect x="-9" y="-4" width="17" height="8" fill="#f4cf8c"/><rect x="-9" y="2.6" width="17" height="1.4" fill="#b8862e" opacity="0.7"/><rect x="6.5" y="-4" width="1.5" height="8" fill="#c99640" opacity="0.8"/></g><g transform="translate(422.1,1250.1) rotate(-175.7)"><rect x="-9" y="-4" width="17" height="8" fill="#f4cf8c"/><rect x="-9" y="2.6" width="17" height="1.4" fill="#b8862e" opacity="0.7"/><rect x="6.5" y="-4" width="1.5" height="8" fill="#c99640" opacity="0.8"/></g><g transform="translate(420.3,1273.0) rotate(-175.7)"><rect x="-9" y="-4" width="17" height="8" fill="#f4cf8c"/><rect x="-9" y="2.6" width="17" height="1.4" fill="#b8862e" opacity="0.7"/><rect x="6.5" y="-4" width="1.5" height="8" fill="#c99640" opacity="0.8"/></g><use href="#d" x="536.0" y="1105.5" width="20.0" height="20.0"/><use href="#d" x="514.4" y="1123.0" width="24.0" height="24.0"/><use href="#d" x="492.8" y="1146.3" width="25.0" height="25.0"/><use href="#d" x="474.3" y="1173.5" width="25.0" height="25.0"/><use href="#d" x="458.5" y="1199.5" width="25.0" height="25.0"/><use href="#d" x="449.1" y="1229.5" width="25.0" height="25.0"/><use href="#d" x="442.9" y="1259.5" width="25.0" height="25.0"/><use href="#q" x="501.5" y="1109.1" width="15.0" height="15.0"/><use href="#q" x="477.5" y="1136.3" width="15.0" height="15.0"/><use href="#q" x="457.3" y="1168.0" width="15.0" height="15.0"/><use href="#q" x="443.3" y="1197.9" width="15.0" height="15.0"/><use href="#q" x="432.6" y="1231.6" width="14.0" height="14.0"/><use href="#q" x="427.3" y="1261.5" width="14.0" height="14.0"/><use href="#q" x="490.3" y="1060.2" width="16.0" height="16.0"/><use href="#q" x="469.2" y="1092.7" width="16.0" height="16.0"/><use href="#q" x="450.7" y="1123.5" width="16.0" height="16.0"/><use href="#q" x="435.7" y="1152.5" width="16.0" height="16.0"/><use href="#q" x="423.9" y="1181.2" width="15.0" height="15.0"/><use href="#q" x="415.4" y="1218.5" width="15.0" height="15.0"/><use href="#q" x="413.2" y="1254.5" width="14.0" height="14.0"/><polyline points="440.0,1291.0 490.0,1291.0" fill="none" stroke="#a8772a" stroke-width="2.5" stroke-linejoin="round" /><polygon points="922.0,1024.0 924.0,1040.0 918.5,1059.2 931.6,1079.4 939.7,1091.6 952.5,1111.9 958.7,1122.0 970.4,1142.9 974.3,1150.5 984.7,1172.2 988.1,1177.9 995.3,1200.7 998.3,1214.4 1001.9,1238.2 1001.9,1249.7 1003.7,1273.6 1010.0,1278.0 1012.0,1291.0 1012.0,1291.0 935.0,1291.0 933.0,1240.0 920.0,1200.0 900.0,1165.0 877.0,1135.0 850.0,1110.0 825.0,1095.0 827.0,1024.0" fill="#e4b66b" /><g clip-path="url(#sc1)"><polyline points="1025.0,1108.0 825.0,998.0" fill="none" stroke="#9c6e22" stroke-width="2.2" opacity="0.8"/><polyline points="1025.0,1129.0 825.0,1019.0" fill="none" stroke="#9c6e22" stroke-width="2.2" opacity="0.8"/><polyline points="1025.0,1150.0 825.0,1040.0" fill="none" stroke="#9c6e22" stroke-width="2.2" opacity="0.8"/><polyline points="1025.0,1171.0 825.0,1061.0" fill="none" stroke="#9c6e22" stroke-width="2.2" opacity="0.8"/><polyline points="1025.0,1192.0 825.0,1082.0" fill="none" stroke="#9c6e22" stroke-width="2.2" opacity="0.8"/><polyline points="1025.0,1213.0 825.0,1103.0" fill="none" stroke="#9c6e22" stroke-width="2.2" opacity="0.8"/><polyline points="1025.0,1234.0 825.0,1124.0" fill="none" stroke="#9c6e22" stroke-width="2.2" opacity="0.8"/><polyline points="1025.0,1255.0 825.0,1145.0" fill="none" stroke="#9c6e22" stroke-width="2.2" opacity="0.8"/><polyline points="1025.0,1276.0 825.0,1166.0" fill="none" stroke="#9c6e22" stroke-width="2.2" opacity="0.8"/><polyline points="1025.0,1297.0 825.0,1187.0" fill="none" stroke="#9c6e22" stroke-width="2.2" opacity="0.8"/><polyline points="1025.0,1318.0 825.0,1208.0" fill="none" stroke="#9c6e22" stroke-width="2.2" opacity="0.8"/><polyline points="1025.0,1339.0 825.0,1229.0" fill="none" stroke="#9c6e22" stroke-width="2.2" opacity="0.8"/><polyline points="1025.0,1360.0 825.0,1250.0" fill="none" stroke="#9c6e22" stroke-width="2.2" opacity="0.8"/><polyline points="1025.0,1381.0 825.0,1271.0" fill="none" stroke="#9c6e22" stroke-width="2.2" opacity="0.8"/><polyline points="1055.0,1300.0 980.0,1090.0" fill="none" stroke="#9c6e22" stroke-width="1.8" opacity="0.7"/><polyline points="1035.0,1300.0 960.0,1090.0" fill="none" stroke="#9c6e22" stroke-width="1.8" opacity="0.7"/><polyline points="1015.0,1300.0 940.0,1090.0" fill="none" stroke="#9c6e22" stroke-width="1.8" opacity="0.7"/><polyline points="995.0,1300.0 920.0,1090.0" fill="none" stroke="#9c6e22" stroke-width="1.8" opacity="0.7"/><polyline points="975.0,1300.0 900.0,1090.0" fill="none" stroke="#9c6e22" stroke-width="1.8" opacity="0.7"/><polyline points="955.0,1300.0 880.0,1090.0" fill="none" stroke="#9c6e22" stroke-width="1.8" opacity="0.7"/><polyline points="935.0,1300.0 860.0,1090.0" fill="none" stroke="#9c6e22" stroke-width="1.8" opacity="0.7"/><polyline points="915.0,1300.0 840.0,1090.0" fill="none" stroke="#9c6e22" stroke-width="1.8" opacity="0.7"/><polyline points="895.0,1300.0 820.0,1090.0" fill="none" stroke="#9c6e22" stroke-width="1.8" opacity="0.7"/><polyline points="875.0,1300.0 800.0,1090.0" fill="none" stroke="#9c6e22" stroke-width="1.8" opacity="0.7"/><polyline points="855.0,1300.0 780.0,1090.0" fill="none" stroke="#9c6e22" stroke-width="1.8" opacity="0.7"/><polyline points="835.0,1300.0 760.0,1090.0" fill="none" stroke="#9c6e22" stroke-width="1.8" opacity="0.7"/></g><polyline points="909.0,1048.0 911.0,1051.7 913.8,1056.8 917.1,1062.9 920.7,1069.4 924.4,1075.9 928.0,1082.0 931.6,1087.7 935.3,1093.4 939.1,1099.1 942.9,1104.8 946.6,1110.4 950.0,1116.0 953.2,1121.4 956.1,1126.8 959.0,1132.1 961.7,1137.4 964.4,1142.7 967.0,1148.0 969.6,1153.3 972.1,1158.6 974.5,1163.9 976.8,1169.3 979.0,1174.6 981.0,1180.0 982.8,1185.4 984.5,1190.8 986.1,1196.2 987.5,1201.7 988.8,1207.3 990.0,1213.0 991.1,1218.9 992.1,1224.9 992.9,1231.0 993.7,1237.2 994.4,1243.6 995.0,1250.0 995.5,1257.1 996.0,1264.9 996.3,1272.8 996.6,1280.2 996.8,1286.5 997.0,1291.0" fill="none" stroke="#f2ca84" stroke-width="12" stroke-linejoin="round" /><polyline points="915.0,1046.5 917.0,1050.2 919.8,1055.3 923.1,1061.4 926.7,1067.9 930.4,1074.4 934.0,1080.5 937.6,1086.2 941.3,1091.9 945.1,1097.6 948.9,1103.3 952.6,1108.9 956.0,1114.5 959.2,1119.9 962.1,1125.3 965.0,1130.6 967.7,1135.9 970.4,1141.2 973.0,1146.5 975.6,1151.8 978.1,1157.1 980.5,1162.4 982.8,1167.8 985.0,1173.1 987.0,1178.5 988.8,1183.9 990.5,1189.3 992.1,1194.7 993.5,1200.2 994.8,1205.8 996.0,1211.5 997.1,1217.4 998.1,1223.4 998.9,1229.5 999.7,1235.7 1000.4,1242.1 1001.0,1248.5 1001.5,1255.6 1002.0,1263.4 1002.3,1271.3 1002.6,1278.7 1002.8,1285.0 1003.0,1289.5" fill="none" stroke="#b8862e" stroke-width="1.5" stroke-linejoin="round" opacity="0.85"/><polyline points="903.0,1049.5 905.0,1053.2 907.8,1058.3 911.1,1064.4 914.7,1070.9 918.4,1077.4 922.0,1083.5 925.6,1089.2 929.3,1094.9 933.1,1100.6 936.9,1106.3 940.6,1111.9 944.0,1117.5 947.2,1122.9 950.1,1128.3 953.0,1133.6 955.7,1138.9 958.4,1144.2 961.0,1149.5 963.6,1154.8 966.1,1160.1 968.5,1165.4 970.8,1170.8 973.0,1176.1 975.0,1181.5 976.8,1186.9 978.5,1192.3 980.1,1197.7 981.5,1203.2 982.8,1208.8 984.0,1214.5 985.1,1220.4 986.1,1226.4 986.9,1232.5 987.7,1238.7 988.4,1245.1 989.0,1251.5 989.5,1258.6 990.0,1266.4 990.3,1274.3 990.6,1281.7 990.8,1288.0 991.0,1292.5" fill="none" stroke="#b8862e" stroke-width="1.5" stroke-linejoin="round" opacity="0.85"/><g transform="translate(919.6,1059.1) rotate(327.0)"><rect x="-9" y="-4" width="17" height="8" fill="#f4cf8c"/><rect x="-9" y="-4" width="17" height="1.4" fill="#b8862e" opacity="0.7"/><rect x="6.5" y="-4" width="1.5" height="8" fill="#c99640" opacity="0.8"/></g><g transform="translate(932.1,1078.4) rotate(327.0)"><rect x="-9" y="-4" width="17" height="8" fill="#f4cf8c"/><rect x="-9" y="-4" width="17" height="1.4" fill="#b8862e" opacity="0.7"/><rect x="6.5" y="-4" width="1.5" height="8" fill="#c99640" opacity="0.8"/></g><g transform="translate(940.9,1091.5) rotate(328.0)"><rect x="-9" y="-4" width="17" height="8" fill="#f4cf8c"/><rect x="-9" y="-4" width="17" height="1.4" fill="#b8862e" opacity="0.7"/><rect x="6.5" y="-4" width="1.5" height="8" fill="#c99640" opacity="0.8"/></g><g transform="translate(953.1,1111.0) rotate(328.0)"><rect x="-9" y="-4" width="17" height="8" fill="#f4cf8c"/><rect x="-9" y="-4" width="17" height="1.4" fill="#b8862e" opacity="0.7"/><rect x="6.5" y="-4" width="1.5" height="8" fill="#c99640" opacity="0.8"/></g><g transform="translate(959.8,1122.0) rotate(330.7)"><rect x="-9" y="-4" width="17" height="8" fill="#f4cf8c"/><rect x="-9" y="-4" width="17" height="1.4" fill="#b8862e" opacity="0.7"/><rect x="6.5" y="-4" width="1.5" height="8" fill="#c99640" opacity="0.8"/></g><g transform="translate(971.0,1142.0) rotate(330.7)"><rect x="-9" y="-4" width="17" height="8" fill="#f4cf8c"/><rect x="-9" y="-4" width="17" height="1.4" fill="#b8862e" opacity="0.7"/><rect x="6.5" y="-4" width="1.5" height="8" fill="#c99640" opacity="0.8"/></g><g transform="translate(975.4,1150.6) rotate(334.5)"><rect x="-9" y="-4" width="17" height="8" fill="#f4cf8c"/><rect x="-9" y="-4" width="17" height="1.4" fill="#b8862e" opacity="0.7"/><rect x="6.5" y="-4" width="1.5" height="8" fill="#c99640" opacity="0.8"/></g><g transform="translate(985.4,1171.3) rotate(334.5)"><rect x="-9" y="-4" width="17" height="8" fill="#f4cf8c"/><rect x="-9" y="-4" width="17" height="1.4" fill="#b8862e" opacity="0.7"/><rect x="6.5" y="-4" width="1.5" height="8" fill="#c99640" opacity="0.8"/></g><g transform="translate(989.2,1178.0) rotate(342.4)"><rect x="-9" y="-4" width="17" height="8" fill="#f4cf8c"/><rect x="-9" y="-4" width="17" height="1.4" fill="#b8862e" opacity="0.7"/><rect x="6.5" y="-4" width="1.5" height="8" fill="#c99640" opacity="0.8"/></g><g transform="translate(996.1,1200.0) rotate(342.4)"><rect x="-9" y="-4" width="17" height="8" fill="#f4cf8c"/><rect x="-9" y="-4" width="17" height="1.4" fill="#b8862e" opacity="0.7"/><rect x="6.5" y="-4" width="1.5" height="8" fill="#c99640" opacity="0.8"/></g><g transform="translate(999.4,1214.8) rotate(351.3)"><rect x="-9" y="-4" width="17" height="8" fill="#f4cf8c"/><rect x="-9" y="-4" width="17" height="1.4" fill="#b8862e" opacity="0.7"/><rect x="6.5" y="-4" width="1.5" height="8" fill="#c99640" opacity="0.8"/></g><g transform="translate(1002.9,1237.5) rotate(351.3)"><rect x="-9" y="-4" width="17" height="8" fill="#f4cf8c"/><rect x="-9" y="-4" width="17" height="1.4" fill="#b8862e" opacity="0.7"/><rect x="6.5" y="-4" width="1.5" height="8" fill="#c99640" opacity="0.8"/></g><g transform="translate(1002.9,1250.1) rotate(355.7)"><rect x="-9" y="-4" width="17" height="8" fill="#f4cf8c"/><rect x="-9" y="-4" width="17" height="1.4" fill="#b8862e" opacity="0.7"/><rect x="6.5" y="-4" width="1.5" height="8" fill="#c99640" opacity="0.8"/></g><g transform="translate(1004.7,1273.0) rotate(355.7)"><rect x="-9" y="-4" width="17" height="8" fill="#f4cf8c"/><rect x="-9" y="-4" width="17" height="1.4" fill="#b8862e" opacity="0.7"/><rect x="6.5" y="-4" width="1.5" height="8" fill="#c99640" opacity="0.8"/></g><use href="#d" x="869.0" y="1105.5" width="20.0" height="20.0"/><use href="#d" x="886.6" y="1123.0" width="24.0" height="24.0"/><use href="#d" x="907.2" y="1146.3" width="25.0" height="25.0"/><use href="#d" x="925.7" y="1173.5" width="25.0" height="25.0"/><use href="#d" x="941.5" y="1199.5" width="25.0" height="25.0"/><use href="#d" x="950.9" y="1229.5" width="25.0" height="25.0"/><use href="#d" x="957.1" y="1259.5" width="25.0" height="25.0"/><use href="#q" x="908.5" y="1109.1" width="15.0" height="15.0"/><use href="#q" x="932.5" y="1136.3" width="15.0" height="15.0"/><use href="#q" x="952.7" y="1168.0" width="15.0" height="15.0"/><use href="#q" x="966.7" y="1197.9" width="15.0" height="15.0"/><use href="#q" x="978.4" y="1231.6" width="14.0" height="14.0"/><use href="#q" x="983.7" y="1261.5" width="14.0" height="14.0"/><use href="#q" x="918.7" y="1060.2" width="16.0" height="16.0"/><use href="#q" x="939.8" y="1092.7" width="16.0" height="16.0"/><use href="#q" x="958.3" y="1123.5" width="16.0" height="16.0"/><use href="#q" x="973.3" y="1152.5" width="16.0" height="16.0"/><use href="#q" x="986.1" y="1181.2" width="15.0" height="15.0"/><use href="#q" x="994.6" y="1218.5" width="15.0" height="15.0"/><use href="#q" x="997.8" y="1254.5" width="14.0" height="14.0"/><polyline points="985.0,1291.0 935.0,1291.0" fill="none" stroke="#a8772a" stroke-width="2.5" stroke-linejoin="round" /><polygon points="463.9,1292.8 465.7,1280.8 468.0,1268.8 470.9,1257.0 474.4,1245.3 478.5,1233.9 483.1,1222.6 488.2,1211.6 493.9,1200.8 500.1,1190.3 506.7,1180.2 513.9,1170.3 521.5,1160.8 529.6,1151.7 538.1,1143.0 547.0,1134.8 556.3,1126.9 566.0,1119.5 576.0,1112.6 586.4,1106.2 597.0,1100.3 607.9,1094.9 619.1,1090.1 630.4,1085.8 642.0,1082.0 653.7,1078.8 665.6,1076.2 677.6,1074.1 689.7,1072.7 701.8,1071.8 714.0,1071.5 726.2,1071.8 738.3,1072.7 750.4,1074.1 762.4,1076.2 774.3,1078.8 786.0,1082.0 797.6,1085.8 808.9,1090.1 820.1,1094.9 831.0,1100.3 841.6,1106.2 852.0,1112.6 862.0,1119.5 871.7,1126.9 881.0,1134.8 889.9,1143.0 898.4,1151.7 906.5,1160.8 914.1,1170.3 921.3,1180.2 927.9,1190.3 934.1,1200.8 939.8,1211.6 944.9,1222.6 949.5,1233.9 953.6,1245.3 957.1,1257.0 960.0,1268.8 962.3,1280.8 964.1,1292.8 940.8,1295.7 939.2,1284.7 937.1,1273.9 934.4,1263.2 931.2,1252.6 927.6,1242.2 923.4,1232.0 918.7,1222.0 913.6,1212.3 908.0,1202.8 901.9,1193.5 895.4,1184.6 888.5,1176.0 881.2,1167.8 873.5,1159.9 865.4,1152.4 857.0,1145.3 848.2,1138.6 839.1,1132.3 829.7,1126.5 820.1,1121.1 810.2,1116.2 800.1,1111.8 789.8,1107.9 779.3,1104.5 768.6,1101.6 757.9,1099.2 747.0,1097.4 736.0,1096.1 725.0,1095.3 714.0,1095.0 703.0,1095.3 692.0,1096.1 681.0,1097.4 670.1,1099.2 659.4,1101.6 648.7,1104.5 638.2,1107.9 627.9,1111.8 617.8,1116.2 607.9,1121.1 598.3,1126.5 588.9,1132.3 579.8,1138.6 571.0,1145.3 562.6,1152.4 554.5,1159.9 546.8,1167.8 539.5,1176.0 532.6,1184.6 526.1,1193.5 520.0,1202.8 514.4,1212.3 509.3,1222.0 504.6,1232.0 500.4,1242.2 496.8,1252.6 493.6,1263.2 490.9,1273.9 488.8,1284.7 487.2,1295.7" fill="#efc47c" /><polyline points="463.9,1292.8 465.7,1280.8 468.0,1268.8 470.9,1257.0 474.4,1245.3 478.5,1233.9 483.1,1222.6 488.2,1211.6 493.9,1200.8 500.1,1190.3 506.7,1180.2 513.9,1170.3 521.5,1160.8 529.6,1151.7 538.1,1143.0 547.0,1134.8 556.3,1126.9 566.0,1119.5 576.0,1112.6 586.4,1106.2 597.0,1100.3 607.9,1094.9 619.1,1090.1 630.4,1085.8 642.0,1082.0 653.7,1078.8 665.6,1076.2 677.6,1074.1 689.7,1072.7 701.8,1071.8 714.0,1071.5 726.2,1071.8 738.3,1072.7 750.4,1074.1 762.4,1076.2 774.3,1078.8 786.0,1082.0 797.6,1085.8 808.9,1090.1 820.1,1094.9 831.0,1100.3 841.6,1106.2 852.0,1112.6 862.0,1119.5 871.7,1126.9 881.0,1134.8 889.9,1143.0 898.4,1151.7 906.5,1160.8 914.1,1170.3 921.3,1180.2 927.9,1190.3 934.1,1200.8 939.8,1211.6 944.9,1222.6 949.5,1233.9 953.6,1245.3 957.1,1257.0 960.0,1268.8 962.3,1280.8 964.1,1292.8" fill="none" stroke="#c6923c" stroke-width="1.5" stroke-linejoin="round" /><polyline points="479.6,1282.2 481.8,1271.3 484.5,1260.6 487.6,1250.0 491.3,1239.5 495.5,1229.2 500.1,1219.2 505.2,1209.3 510.7,1199.7 516.7,1190.4 523.1,1181.4 529.9,1172.6 537.1,1164.2 544.7,1156.2 552.7,1148.5 561.0,1141.2 569.7,1134.3 578.6,1127.8 587.9,1121.7 597.4,1116.0 607.2,1110.8 617.2,1106.1 627.4,1101.8 637.8,1098.0 648.4,1094.7 659.1,1091.9 669.9,1089.6 680.9,1087.8 691.9,1086.5 702.9,1085.8 714.0,1085.5 725.1,1085.8 736.1,1086.5 747.1,1087.8 758.1,1089.6 768.9,1091.9 779.6,1094.7 790.2,1098.0 800.6,1101.8 810.8,1106.1 820.8,1110.8 830.6,1116.0 840.1,1121.7 849.4,1127.8 858.3,1134.3 867.0,1141.2 875.3,1148.5 883.3,1156.2 890.9,1164.2 898.1,1172.6 904.9,1181.4 911.3,1190.4 917.3,1199.7 922.8,1209.3 927.9,1219.2 932.5,1229.2 936.7,1239.5 940.4,1250.0 943.5,1260.6 946.2,1271.3 948.4,1282.2" fill="none" stroke="#d9a95a" stroke-width="1.2" stroke-linejoin="round" opacity="0.7"/><polygon points="543.9,1148.6 548.5,1144.3 553.1,1140.1 557.9,1136.0 562.8,1132.0 567.8,1128.2 572.8,1124.5 578.0,1120.9 583.3,1117.5 588.6,1114.2 594.0,1111.0 599.5,1108.0 605.1,1105.1 612.0,1119.0 606.8,1121.7 601.7,1124.5 596.6,1127.5 591.6,1130.6 586.6,1133.8 581.8,1137.1 577.0,1140.6 572.4,1144.2 567.8,1147.9 563.3,1151.7 559.0,1155.6 554.7,1159.7" fill="#f7e592" /><polyline points="543.9,1148.6 548.5,1144.3 553.1,1140.1 557.9,1136.0 562.8,1132.0 567.8,1128.2 572.8,1124.5 578.0,1120.9 583.3,1117.5 588.6,1114.2 594.0,1111.0 599.5,1108.0 605.1,1105.1" fill="none" stroke="#b98a35" stroke-width="1.5" stroke-linejoin="round" /><polygon points="822.9,1105.1 828.5,1108.0 834.0,1111.0 839.4,1114.2 844.7,1117.5 850.0,1120.9 855.2,1124.5 860.2,1128.2 865.2,1132.0 870.1,1136.0 874.9,1140.1 879.5,1144.3 884.1,1148.6 873.3,1159.7 869.0,1155.6 864.7,1151.7 860.2,1147.9 855.6,1144.2 851.0,1140.6 846.2,1137.1 841.4,1133.8 836.4,1130.6 831.4,1127.5 826.3,1124.5 821.2,1121.7 816.0,1119.0" fill="#f7e592" /><polyline points="822.9,1105.1 828.5,1108.0 834.0,1111.0 839.4,1114.2 844.7,1117.5 850.0,1120.9 855.2,1124.5 860.2,1128.2 865.2,1132.0 870.1,1136.0 874.9,1140.1 879.5,1144.3 884.1,1148.6" fill="none" stroke="#b98a35" stroke-width="1.5" stroke-linejoin="round" /><rect x="503" y="1024" width="418" height="58" fill="#f3cb85"/><rect x="599.2" y="1025" width="1.6" height="57" fill="#c6923c"/><rect x="637.0" y="1025" width="1.6" height="57" fill="#c6923c"/><rect x="674.8" y="1025" width="1.6" height="57" fill="#c6923c"/><rect x="712.6" y="1025" width="1.6" height="57" fill="#c6923c"/><rect x="750.4" y="1025" width="1.6" height="57" fill="#c6923c"/><rect x="788.2" y="1025" width="1.6" height="57" fill="#c6923c"/><rect x="826.0" y="1025" width="1.6" height="57" fill="#c6923c"/><rect x="600" y="1025" width="227" height="1.6" fill="#c6923c"/><rect x="600" y="1060.5" width="227" height="1.6" fill="#c6923c"/><rect x="603.0" y="1028" width="8" height="8" fill="none" stroke="#c6923c" stroke-width="1.2"/><rect x="626.0" y="1028" width="8" height="8" fill="none" stroke="#c6923c" stroke-width="1.2"/><rect x="603.0" y="1049" width="8" height="8" fill="none" stroke="#c6923c" stroke-width="1.2"/><rect x="626.0" y="1049" width="8" height="8" fill="none" stroke="#c6923c" stroke-width="1.2"/><rect x="640.8" y="1028" width="8" height="8" fill="none" stroke="#c6923c" stroke-width="1.2"/><rect x="663.8" y="1028" width="8" height="8" fill="none" stroke="#c6923c" stroke-width="1.2"/><rect x="640.8" y="1049" width="8" height="8" fill="none" stroke="#c6923c" stroke-width="1.2"/><rect x="663.8" y="1049" width="8" height="8" fill="none" stroke="#c6923c" stroke-width="1.2"/><rect x="678.6" y="1028" width="8" height="8" fill="none" stroke="#c6923c" stroke-width="1.2"/><rect x="701.6" y="1028" width="8" height="8" fill="none" stroke="#c6923c" stroke-width="1.2"/><rect x="678.6" y="1049" width="8" height="8" fill="none" stroke="#c6923c" stroke-width="1.2"/><rect x="701.6" y="1049" width="8" height="8" fill="none" stroke="#c6923c" stroke-width="1.2"/><rect x="716.4" y="1028" width="8" height="8" fill="none" stroke="#c6923c" stroke-width="1.2"/><rect x="739.4" y="1028" width="8" height="8" fill="none" stroke="#c6923c" stroke-width="1.2"/><rect x="716.4" y="1049" width="8" height="8" fill="none" stroke="#c6923c" stroke-width="1.2"/><rect x="739.4" y="1049" width="8" height="8" fill="none" stroke="#c6923c" stroke-width="1.2"/><rect x="754.2" y="1028" width="8" height="8" fill="none" stroke="#c6923c" stroke-width="1.2"/><rect x="777.2" y="1028" width="8" height="8" fill="none" stroke="#c6923c" stroke-width="1.2"/><rect x="754.2" y="1049" width="8" height="8" fill="none" stroke="#c6923c" stroke-width="1.2"/><rect x="777.2" y="1049" width="8" height="8" fill="none" stroke="#c6923c" stroke-width="1.2"/><rect x="792.0" y="1028" width="8" height="8" fill="none" stroke="#c6923c" stroke-width="1.2"/><rect x="815.0" y="1028" width="8" height="8" fill="none" stroke="#c6923c" stroke-width="1.2"/><rect x="792.0" y="1049" width="8" height="8" fill="none" stroke="#c6923c" stroke-width="1.2"/><rect x="815.0" y="1049" width="8" height="8" fill="none" stroke="#c6923c" stroke-width="1.2"/><rect x="640.0" y="1064.2" width="10" height="9" fill="none" stroke="#c6923c" stroke-width="1.4"/><rect x="654.5" y="1064.2" width="10" height="9" fill="none" stroke="#c6923c" stroke-width="1.4"/><rect x="669.0" y="1064.2" width="10" height="9" fill="none" stroke="#c6923c" stroke-width="1.4"/><rect x="683.5" y="1064.2" width="10" height="9" fill="none" stroke="#c6923c" stroke-width="1.4"/><rect x="698.0" y="1064.2" width="10" height="9" fill="none" stroke="#c6923c" stroke-width="1.4"/><rect x="712.5" y="1064.2" width="10" height="9" fill="none" stroke="#c6923c" stroke-width="1.4"/><rect x="727.0" y="1064.2" width="10" height="9" fill="none" stroke="#c6923c" stroke-width="1.4"/><rect x="741.5" y="1064.2" width="10" height="9" fill="none" stroke="#c6923c" stroke-width="1.4"/><rect x="756.0" y="1064.2" width="10" height="9" fill="none" stroke="#c6923c" stroke-width="1.4"/><rect x="770.5" y="1064.2" width="10" height="9" fill="none" stroke="#c6923c" stroke-width="1.4"/><rect x="785.0" y="1064.2" width="10" height="9" fill="none" stroke="#c6923c" stroke-width="1.4"/><rect x="799.5" y="1064.2" width="10" height="9" fill="none" stroke="#c6923c" stroke-width="1.4"/><rect x="814.0" y="1064.2" width="10" height="9" fill="none" stroke="#c6923c" stroke-width="1.4"/><polyline points="611.5,1103.7 618.0,1100.8 624.5,1098.1 631.1,1095.6 637.7,1093.3 644.5,1091.2 651.2,1089.3 658.1,1087.5 665.0,1086.0 671.9,1084.7 678.9,1083.6 685.8,1082.6 692.9,1081.9 699.9,1081.4 706.9,1081.1 714.0,1081.0 721.1,1081.1 728.1,1081.4 735.1,1081.9 742.2,1082.6 749.1,1083.6 756.1,1084.7 763.0,1086.0 769.9,1087.5 776.8,1089.3 783.5,1091.2 790.3,1093.3 796.9,1095.6 803.5,1098.1 810.0,1100.8 816.5,1103.7" fill="none" stroke="#c6923c" stroke-width="1.5" stroke-linejoin="round" /><rect x="502.5" y="1024" width="97.5" height="74" fill="#f4d48a"/><rect x="502.5" y="1024" width="97.5" height="3" fill="#c99a4c"/><rect x="502.5" y="1061.5" width="97.5" height="2.5" fill="#c0903e"/><rect x="502.5" y="1095" width="97.5" height="3" fill="#b8862e"/><rect x="535.5" y="1027" width="2.6" height="34" fill="#7c5620"/><rect x="536.5" y="1064" width="2.6" height="33" fill="#7c5620"/><rect x="563.5" y="1027" width="2.6" height="34" fill="#7c5620"/><rect x="564.5" y="1064" width="2.6" height="33" fill="#7c5620"/><rect x="597.5" y="1024" width="2.5" height="74" fill="#c0903e"/><rect x="826" y="1024" width="97.5" height="74" fill="#f4d48a"/><rect x="826" y="1024" width="97.5" height="3" fill="#c99a4c"/><rect x="826" y="1061.5" width="97.5" height="2.5" fill="#c0903e"/><rect x="826" y="1095" width="97.5" height="3" fill="#b8862e"/><rect x="887.0" y="1027" width="2.6" height="34" fill="#7c5620"/><rect x="888.0" y="1064" width="2.6" height="33" fill="#7c5620"/><rect x="859.0" y="1027" width="2.6" height="34" fill="#7c5620"/><rect x="860.0" y="1064" width="2.6" height="33" fill="#7c5620"/><rect x="826" y="1024" width="2.5" height="74" fill="#c0903e"/><rect x="507" y="1011" width="413" height="13.5" fill="#f3cb85"/><rect x="507" y="1011" width="90" height="13.5" fill="#f9e08c"/><rect x="828" y="1011" width="92" height="13.5" fill="#f9e08c"/><rect x="597" y="1011" width="231" height="2" fill="#f8dc9a"/><rect x="512.5" y="994.5" width="404" height="17" fill="#ecc079"/><rect x="512.5" y="1008" width="404" height="3" fill="#c6923c" opacity="0.6"/><rect x="553" y="974.5" width="318.5" height="20.5" fill="#f3cb85"/><rect x="553" y="974.5" width="318.5" height="2.5" fill="#c6923c" opacity="0.5"/><rect x="557" y="960" width="311" height="14.5" fill="#ecc079"/><rect x="598.6" y="942.7" width="227" height="17.5" fill="#f3cb85"/><rect x="598.6" y="942.7" width="227" height="2.5" fill="#c6923c" opacity="0.5"/><rect x="604.8" y="928.7" width="47.4" height="14.5" fill="#ecc079"/><rect x="660.7" y="928.7" width="47.4" height="14.5" fill="#ecc079"/><rect x="716.6" y="928.7" width="46.6" height="14.5" fill="#ecc079"/><rect x="772.6" y="928.7" width="46.6" height="14.5" fill="#ecc079"/><use href="#b" x="617.5" y="928.5" width="23.0" height="15.0"/><use href="#b" x="673.0" y="928.5" width="23.0" height="15.0"/><use href="#b" x="728.8" y="928.5" width="23.0" height="15.0"/><use href="#b" x="784.7" y="928.5" width="23.0" height="15.0"/><use href="#b" x="563.6" y="960.0" width="26.0" height="15.0"/><use href="#b" x="608.3" y="960.0" width="26.0" height="15.0"/><circle cx="643.8" cy="970" r="2.8" fill="#c6923c"/><use href="#b" x="653.0" y="960.0" width="26.0" height="15.0"/><circle cx="688.5" cy="970" r="2.8" fill="#c6923c"/><use href="#b" x="697.6" y="960.0" width="26.0" height="15.0"/><circle cx="733.1" cy="970" r="2.8" fill="#c6923c"/><use href="#b" x="742.2" y="960.0" width="26.0" height="15.0"/><circle cx="777.7" cy="970" r="2.8" fill="#c6923c"/><use href="#b" x="786.9" y="960.0" width="26.0" height="15.0"/><circle cx="822.4" cy="970" r="2.8" fill="#c6923c"/><use href="#b" x="833.5" y="960.0" width="26.0" height="15.0"/><use href="#b" x="514.6" y="994.5" width="27.0" height="16.0"/><use href="#b" x="592.3" y="994.5" width="27.0" height="16.0"/><circle cx="626.8" cy="1005" r="2.8" fill="#c6923c"/><use href="#b" x="635.0" y="994.5" width="27.0" height="16.0"/><circle cx="669.5" cy="1005" r="2.8" fill="#c6923c"/><use href="#b" x="677.7" y="994.5" width="27.0" height="16.0"/><circle cx="712.2" cy="1005" r="2.8" fill="#c6923c"/><use href="#b" x="720.4" y="994.5" width="27.0" height="16.0"/><circle cx="754.9" cy="1005" r="2.8" fill="#c6923c"/><use href="#b" x="761.2" y="994.5" width="27.0" height="16.0"/><circle cx="795.7" cy="1005" r="2.8" fill="#c6923c"/><use href="#b" x="803.9" y="994.5" width="27.0" height="16.0"/><circle cx="838.4" cy="1005" r="2.8" fill="#c6923c"/><use href="#b" x="879.6" y="994.5" width="27.0" height="16.0"/><use href="#d" x="603.6" y="1027.5" width="32.0" height="32.0"/><use href="#d" x="640.0" y="1027.5" width="32.0" height="32.0"/><use href="#d" x="678.0" y="1027.5" width="32.0" height="32.0"/><use href="#d" x="715.4" y="1027.5" width="32.0" height="32.0"/><use href="#d" x="752.7" y="1027.5" width="32.0" height="32.0"/><use href="#d" x="789.0" y="1027.5" width="32.0" height="32.0"/><use href="#d" x="604.1" y="1063.5" width="31.0" height="31.0"/><use href="#d" x="789.5" y="1063.5" width="31.0" height="31.0"/><g transform="translate(526.9,1044.5) rotate(-16)"><use href="#m" x="-16.0" y="-16.0" width="32.0" height="32.0"/></g><g transform="translate(900.1,1044.5) rotate(16)"><use href="#m" x="-16.0" y="-16.0" width="32.0" height="32.0"/></g><g transform="translate(554.2,1044.5) rotate(-16)"><use href="#m" x="-16.0" y="-16.0" width="32.0" height="32.0"/></g><g transform="translate(872.8,1044.5) rotate(16)"><use href="#m" x="-16.0" y="-16.0" width="32.0" height="32.0"/></g><g transform="translate(582.7,1044.5) rotate(-16)"><use href="#m" x="-16.0" y="-16.0" width="32.0" height="32.0"/></g><g transform="translate(844.3,1044.5) rotate(16)"><use href="#m" x="-16.0" y="-16.0" width="32.0" height="32.0"/></g><g transform="translate(532.0,1081.0) rotate(-16)"><use href="#m" x="-16.0" y="-16.0" width="32.0" height="32.0"/></g><g transform="translate(892.0,1081.0) rotate(16)"><use href="#m" x="-16.0" y="-16.0" width="32.0" height="32.0"/></g><g transform="translate(558.2,1081.0) rotate(-16)"><use href="#m" x="-16.0" y="-16.0" width="32.0" height="32.0"/></g><g transform="translate(865.8,1081.0) rotate(16)"><use href="#m" x="-16.0" y="-16.0" width="32.0" height="32.0"/></g><g transform="translate(586.1,1081.0) rotate(-16)"><use href="#m" x="-16.0" y="-16.0" width="32.0" height="32.0"/></g><g transform="translate(837.9,1081.0) rotate(16)"><use href="#m" x="-16.0" y="-16.0" width="32.0" height="32.0"/></g><use href="#q" x="502.2" y="1036.5" width="14.0" height="14.0"/><use href="#q" x="910.8" y="1036.5" width="14.0" height="14.0"/><use href="#q" x="509.0" y="1073.5" width="14.0" height="14.0"/><use href="#q" x="902.0" y="1073.5" width="14.0" height="14.0"/><circle cx="714.0" cy="1323.5" r="230.5" fill="none" stroke="#f1c67a" stroke-width="2.5" opacity="0.8"/><circle cx="714.0" cy="1323.5" r="228.5" fill="#fefefe"/><path d="M 942.5,1323.5 A 228.5 228.5 0 0 1 485.5,1323.5" fill="none" stroke="#a98240" stroke-width="1.1"/>
</svg>
</body></html>
